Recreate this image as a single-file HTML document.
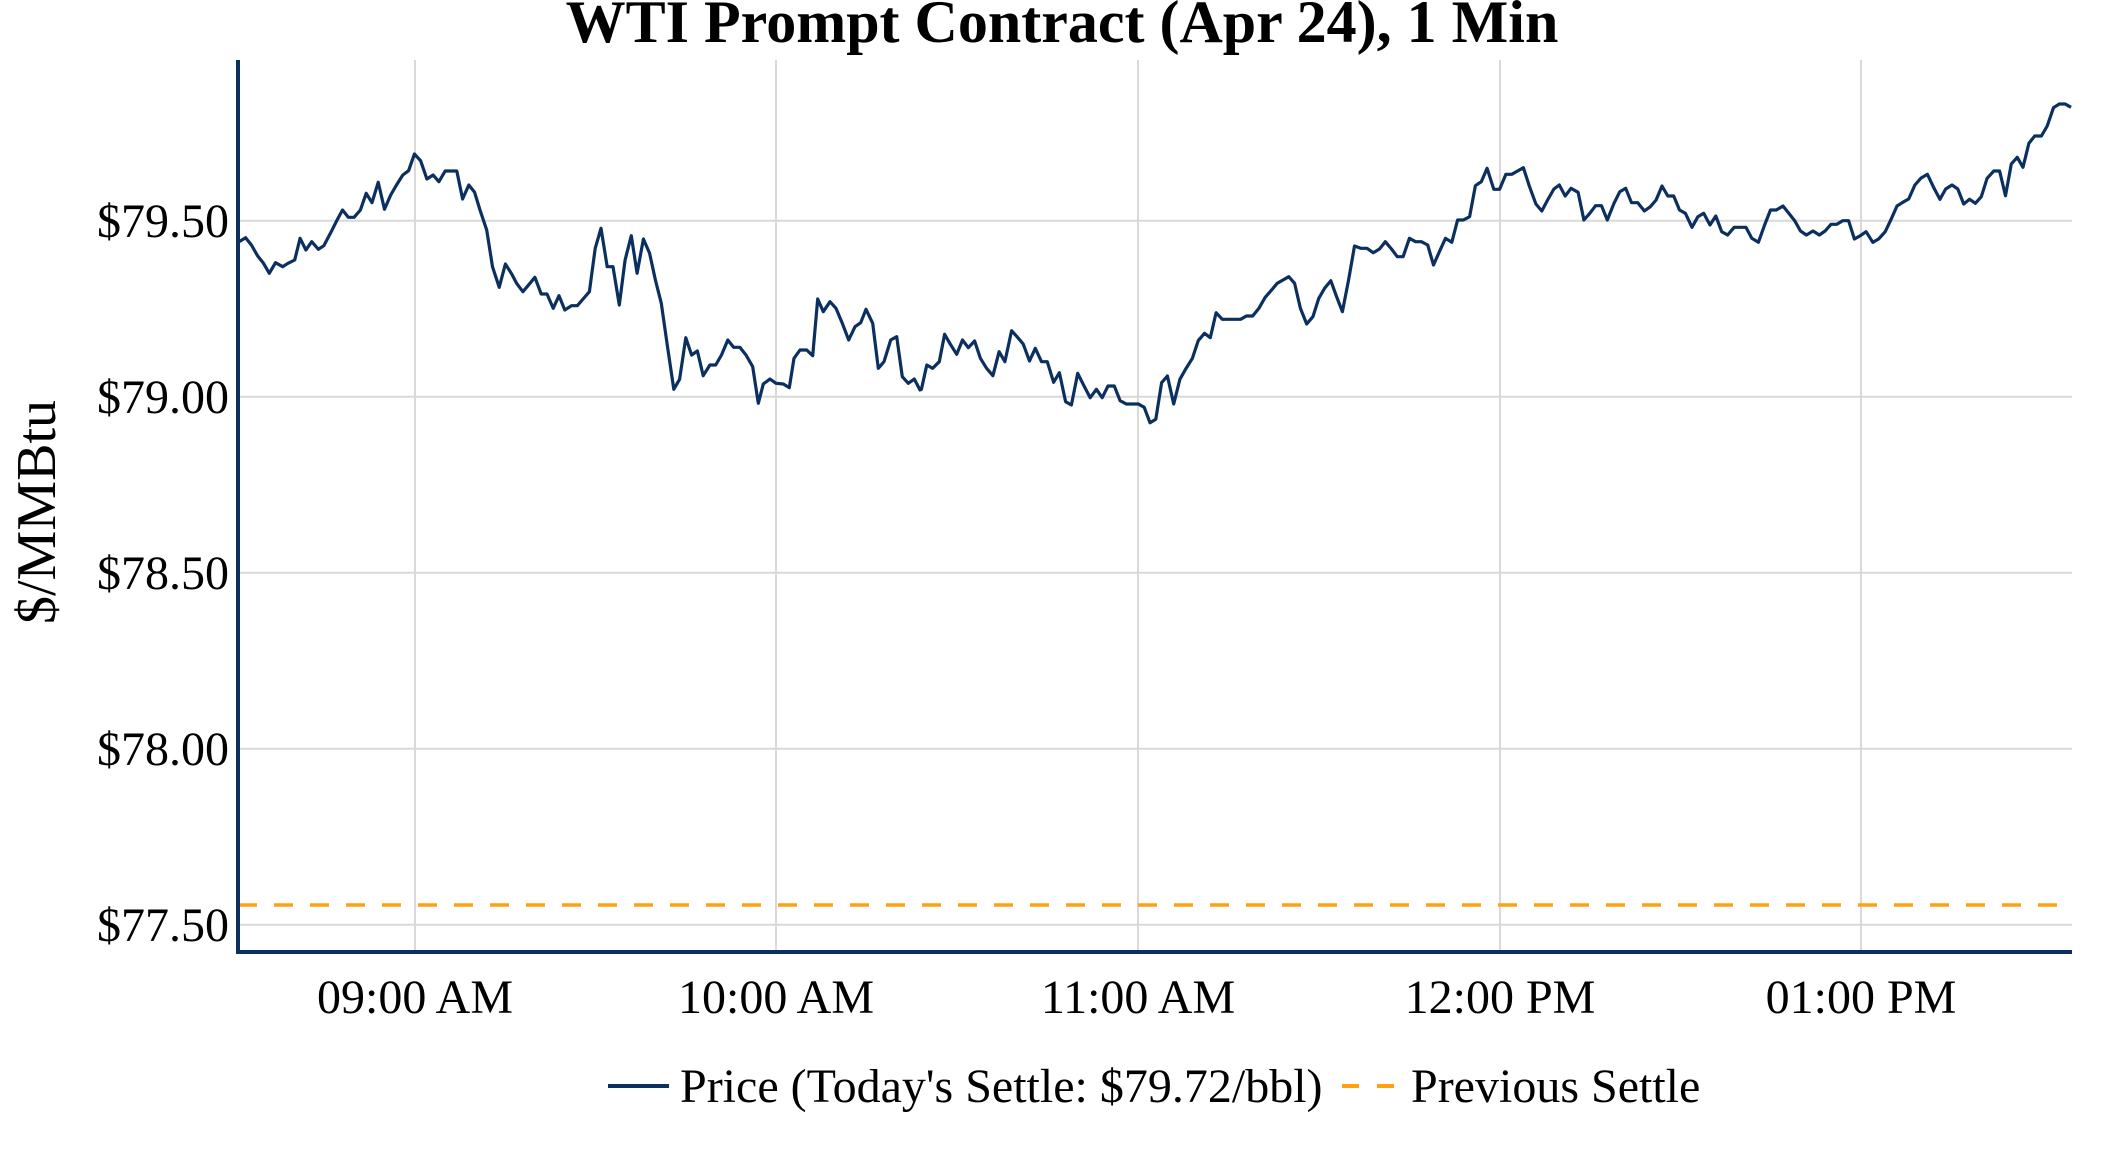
<!DOCTYPE html>
<html><head><meta charset="utf-8"><style>
html,body{margin:0;padding:0;background:#fff;}
svg{display:block;}
text{font-family:"Liberation Serif","Times New Roman",serif;fill:#000;}
</style></head><body>
<svg id="s" width="2112" height="1152" viewBox="0 0 2112 1152" xmlns="http://www.w3.org/2000/svg">
<rect width="2112" height="1152" fill="#fff"/>
<g stroke="#d9d9d9" stroke-width="2">
<line x1="238" y1="220.7" x2="2072" y2="220.7"/>
<line x1="238" y1="396.7" x2="2072" y2="396.7"/>
<line x1="238" y1="572.7" x2="2072" y2="572.7"/>
<line x1="238" y1="748.7" x2="2072" y2="748.7"/>
<line x1="238" y1="924.7" x2="2072" y2="924.7"/>
<line x1="415" y1="60" x2="415" y2="951"/>
<line x1="776" y1="60" x2="776" y2="951"/>
<line x1="1138" y1="60" x2="1138" y2="951"/>
<line x1="1500" y1="60" x2="1500" y2="951"/>
<line x1="1861" y1="60" x2="1861" y2="951"/>
</g>
<line x1="238" y1="905" x2="2072" y2="905" stroke="#ffa20d" stroke-width="3.5" stroke-dasharray="19,17"/>
<path id="p" fill="none" stroke="#0b2f5f" stroke-width="3.2" stroke-linejoin="round"/>
<line x1="238" y1="60" x2="238" y2="953" stroke="#0b2f5f" stroke-width="4"/>
<line x1="236" y1="952" x2="2072" y2="952" stroke="#0b2f5f" stroke-width="4"/>
<text x="1062" y="42" font-size="60" font-weight="bold" text-anchor="middle">WTI Prompt Contract (Apr 24), 1 Min</text>
<g font-size="48" text-anchor="end">
<text x="229" y="237">$79.50</text>
<text x="229" y="413">$79.00</text>
<text x="229" y="589">$78.50</text>
<text x="229" y="765">$78.00</text>
<text x="229" y="941">$77.50</text>
</g>
<g font-size="48" text-anchor="middle">
<text x="415" y="1013">09:00 AM</text>
<text x="776" y="1013">10:00 AM</text>
<text x="1138" y="1013">11:00 AM</text>
<text x="1500" y="1013">12:00 PM</text>
<text x="1861" y="1013">01:00 PM</text>
</g>
<text transform="translate(55,512) rotate(-90)" font-size="56" text-anchor="middle">$/MMBtu</text>
<line x1="608" y1="1086" x2="669" y2="1086" stroke="#0b2f5f" stroke-width="4"/>
<text x="680" y="1102" font-size="48">Price (Today's Settle: $79.72/bbl)</text>
<line x1="1342" y1="1086" x2="1394" y2="1086" stroke="#ffa20d" stroke-width="4" stroke-dasharray="17,18"/>
<text x="1411" y="1102" font-size="48">Previous Settle</text>
</svg>
<script>
var z1=[[20,365],[35,353],[48,375],[62,408],[75,430],[88,460],[102,428],[118,440],[130,430],[145,420],[157,355],[170,390],[183,365],[198,388],[210,377],[225,340],[240,300],[252,270],[265,292],[278,292],[292,270],[305,220],[318,248],[332,187],[346,268],[360,225],[373,195],[387,165],[400,152],[413,102],[427,122],[441,177],[455,165],[468,185],[482,153],[508,153],[521,237],[535,195],[548,217],[560,270],[575,330],[588,440],[603,502],[617,432],[630,460],[642,490],[656,515],[670,493],[683,472],[697,522],[710,522],[724,565],[737,527],[750,570],[765,557],[778,557],[791,537],[805,515],[818,385],[831,325],[845,440],[858,440],[872,555],[885,420],[899,347],[912,460],[926,357],[940,400],[953,480],[966,550],[980,680],[994,808],[1007,778],[1021,653],[1034,705],[1047,693],[1060,767],[1075,735],[1088,735],[1101,705],[1115,660],[1128,682],[1142,682]];
var z4=[[0,262],[18,285],[38,320],[55,430],[70,372],[90,357],[108,370],[130,372],[148,383],[162,295],[180,270],[200,270],[218,287],[233,117],[250,155],[270,125],[288,145],[308,193],[326,240],[345,200],[362,188],[378,148],[398,190],[415,325],[432,305],[452,240],[470,230],[487,350],[505,370],[523,357],[540,390]];
var z2=[[48,808],[60,735],[73,745],[88,725],[100,643],[113,673],[127,703],[140,660],[153,683],[167,663],[180,715],[194,745],[208,767],[222,695],[235,725],[250,632],[262,650],[276,672],[290,723],[303,685],[317,725],[330,725],[344,787],[357,758],[371,845],[384,855],[398,760],[412,797],[426,833],[440,808],[453,833],[466,798],[480,798],[493,842],[507,852],[521,852],[534,852],[547,862],[560,908],[573,898],[586,788],[599,768],[613,852],[627,778],[640,747],[655,715],[668,662],[682,640],[695,653],[708,578],[722,598],[736,598],[750,598],[763,598],[776,588],[790,588],[804,565],[818,532],[831,512],[845,490],[858,480],[871,470],[884,490],[897,565],[911,612],[925,590],[938,535],[951,505],[965,482],[978,530],[991,575],[1005,478],[1018,378],[1032,385],[1046,385],[1060,398],[1074,387],[1087,365],[1101,387],[1114,410],[1127,410],[1141,355],[1155,365],[1168,365],[1182,375],[1195,435],[1209,393],[1222,355],[1236,367],[1249,300],[1262,300],[1276,290],[1289,197],[1302,185],[1315,145],[1330,208],[1343,208]];
var z3=[[15,343],[30,343],[45,333],[60,323],[75,378],[92,432],[107,453],[122,420],[138,387],[152,375],[167,408],[182,385],[200,397],[215,480],[230,460],[245,437],[260,437],[275,480],[292,430],[307,395],[322,385],[337,428],[353,428],[370,453],[385,440],[400,420],[415,378],[430,408],[445,408],[460,450],[475,460],[492,502],[507,470],[522,460],[538,495],[553,468],[568,515],[583,525],[600,502],[630,502],[645,535],[662,547],[678,495],[693,450],[708,450],[725,438],[740,460],[755,482],[770,513],[785,525],[802,513],[818,525],[833,513],[848,493],[863,493],[878,482],[893,482],[908,537],[923,527],[938,515],[955,547],[970,537],[987,515],[1002,478],[1017,438],[1032,427],[1047,417],[1063,375],[1078,355],[1095,343],[1110,380],[1127,418],[1142,387],[1158,375],[1173,387],[1188,432],[1203,418],[1218,430],[1233,410],[1248,355],[1265,333],[1280,333],[1295,407],[1310,312],[1325,292],[1340,322],[1355,250],[1370,228],[1387,228],[1402,198],[1418,143],[1433,132],[1448,132],[1463,142]];
var pts=[];
z1.forEach(function(p){pts.push([230+p[0]/2.24,120+p[1]/3]);});
z4.slice(1).forEach(function(p){pts.push([740+p[0]/3,260+p[1]/3]);});
z2.forEach(function(p){pts.push([900+p[0]/2.24,120+p[1]/3]);});
z3.forEach(function(p){pts.push([1500+p[0]/2.562,60+p[1]/3]);});
pts[0][0]=239;
var d=pts.map(function(p,i){return (i?'L':'M')+p[0].toFixed(1)+','+p[1].toFixed(1);}).join('');
document.getElementById('p').setAttribute('d',d);
</script>
</body></html>
